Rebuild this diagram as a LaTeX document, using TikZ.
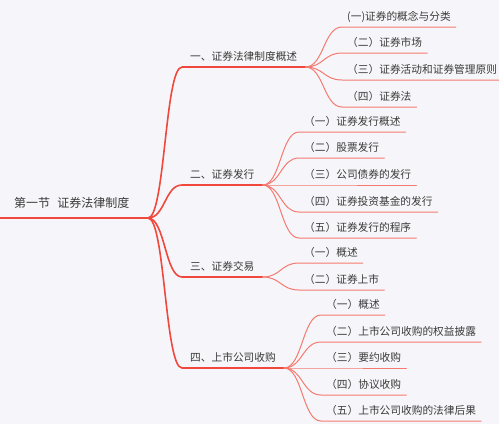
\documentclass[tikz,border=0pt]{standalone}
\usepackage{fontspec}
\setmainfont{Noto Sans CJK SC}
\usepackage{tikz}
\usetikzlibrary{calc}
\definecolor{paper}{HTML}{F6F6FA}
\definecolor{ink}{HTML}{3A3A3A}
\definecolor{trunk}{HTML}{F0483C}
\definecolor{twig}{HTML}{F47A70}
\tikzset{map/.style={x=1pt,y=-1pt,line join=round,line cap=round,text=ink,font=\fontsize{10.7}{12}\selectfont},
  rootnode/.style={anchor=south west,inner xsep=14pt,inner ysep=8pt,text height=9pt,text depth=2pt,font=\fontsize{12}{14}\selectfont},
  topic/.style={anchor=south west,inner xsep=8pt,inner ysep=4pt,text height=8pt,text depth=2pt},
  sub/.style={anchor=south west,inner xsep=5pt,inner ysep=4pt,text height=8pt,text depth=2pt},
  bough/.style={trunk,line width=1.6pt},
  leaf/.style={twig,line width=1pt},
  branch/.style={to path={let \p1=(\tikztostart),\p2=(\tikztotarget) in
    .. controls ({0.5*\x1+0.5*\x2},\y1) and ({0.5*\x1+0.5*\x2},\y2) .. (\tikztotarget)}}}

\begin{document}
\begin{tikzpicture}[map]
  \useasboundingbox[fill=paper](0,0)rectangle(499,424);
  % root
  \node[rootnode](root)at(0,218){第一节\hspace{0.6em}证券法律制度};\coordinate(hub)at(148,218);
  \draw[bough](root.south west)--(hub);
  % main topics
  \node[topic](t1)at(182,67){一、证券法律制度概述};\draw[bough](hub)to[branch](t1.south west)--(t1.south east);
  \node[topic](t2)at(182,185){二、证券发行};\draw[bough](hub)to[branch](t2.south west)--(t2.south east);
  \node[topic](t3)at(182,277){三、证券交易};\draw[bough](hub)to[branch](t3.south west)--(t3.south east);
  \node[topic](t4)at(182,368){四、上市公司收购};\draw[bough](hub)to[branch](t4.south west)--(t4.south east);
  % subtopics of t1
  \node[sub](t1a)at(342,27){(一)证券的概念与分类};\draw[leaf](t1.south east)to[branch](t1a.south west)--(t1a.south east);
  \node[sub](t1b)at(342,53){（二）证券市场};\draw[leaf](t1.south east)to[branch](t1b.south west)--(t1b.south east);
  \node[sub](t1c)at(342,80){（三）证券活动和证券管理原则};\draw[leaf](t1.south east)to[branch](t1c.south west)--(t1c.south east);
  \node[sub](t1d)at(342,107){（四）证券法};\draw[leaf](t1.south east)to[branch](t1d.south west)--(t1d.south east);
  % subtopics of t2
  \node[sub](t2a)at(299,132){（一）证券发行概述};\draw[leaf](t2.south east)to[branch](t2a.south west)--(t2a.south east);
  \node[sub](t2b)at(299,158){（二）股票发行};\draw[leaf](t2.south east)to[branch](t2b.south west)--(t2b.south east);
  \node[sub](t2c)at(299,185){（三）公司债券的发行};\draw[leaf](t2.south east)to[branch](t2c.south west)--(t2c.south east);
  \node[sub](t2d)at(299,212){（四）证券投资基金的发行};\draw[leaf](t2.south east)to[branch](t2d.south west)--(t2d.south east);
  \node[sub](t2e)at(299,238){（五）证券发行的程序};\draw[leaf](t2.south east)to[branch](t2e.south west)--(t2e.south east);
  % subtopics of t3
  \node[sub](t3a)at(299,263){（一）概述};\draw[leaf](t3.south east)to[branch](t3a.south west)--(t3a.south east);
  \node[sub](t3b)at(299,290){（二）证券上市};\draw[leaf](t3.south east)to[branch](t3b.south west)--(t3b.south east);
  % subtopics of t4
  \node[sub](t4a)at(321,315){（一）概述};\draw[leaf](t4.south east)to[branch](t4a.south west)--(t4a.south east);
  \node[sub](t4b)at(321,342){（二）上市公司收购的权益披露};\draw[leaf](t4.south east)to[branch](t4b.south west)--(t4b.south east);
  \node[sub](t4c)at(321,368){（三）要约收购};\draw[leaf](t4.south east)to[branch](t4c.south west)--(t4c.south east);
  \node[sub](t4d)at(321,395){（四）协议收购};\draw[leaf](t4.south east)to[branch](t4d.south west)--(t4d.south east);
  \node[sub](t4e)at(321,421){（五）上市公司收购的法律后果};\draw[leaf](t4.south east)to[branch](t4e.south west)--(t4e.south east);
\end{tikzpicture}
\end{document}
